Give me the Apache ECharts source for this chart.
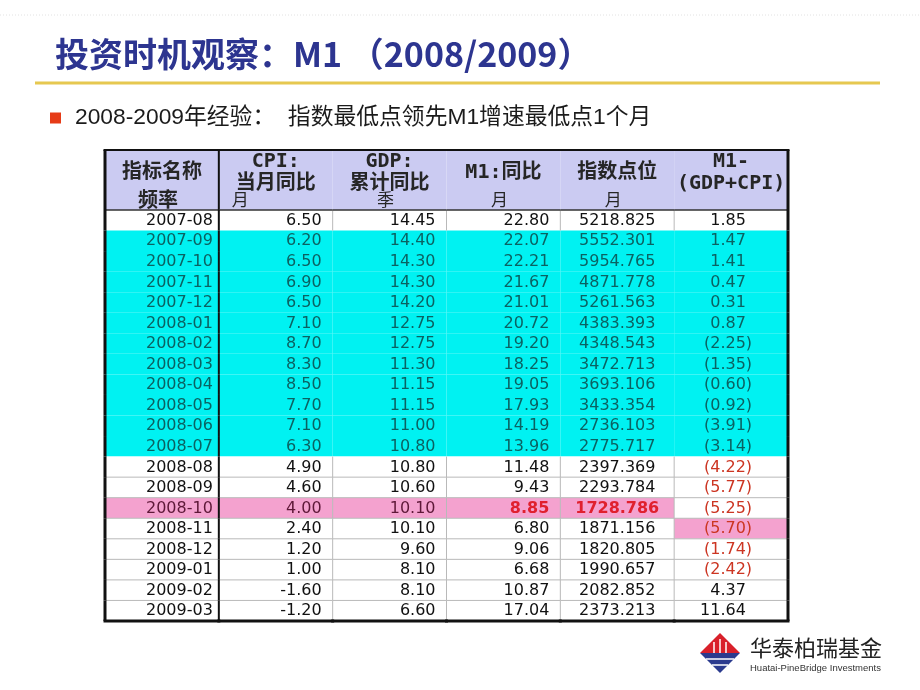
<!DOCTYPE html>
<html>
<head>
<meta charset="utf-8">
<script src="https://cdn.jsdelivr.net/npm/echarts@6/dist/echarts.min.js"></script>
<style>
html,body{margin:0;padding:0;background:#ffffff;}
#c{width:920px;height:690px;}
</style>
</head>
<body>
<div id="c"></div>
<script>
// ---------------- data ----------------
const months = ['2007-08','2007-09','2007-10','2007-11','2007-12','2008-01','2008-02','2008-03','2008-04','2008-05',
                '2008-06','2008-07','2008-08','2008-09','2008-10','2008-11','2008-12','2009-01','2009-02','2009-03'];
const cpi = [6.50,6.20,6.50,6.90,6.50,7.10,8.70,8.30,8.50,7.70,7.10,6.30,4.90,4.60,4.00,2.40,1.20,1.00,-1.60,-1.20];
const gdp = [14.45,14.40,14.30,14.30,14.20,12.75,12.75,11.30,11.15,11.15,11.00,10.80,10.80,10.60,10.10,10.10,9.60,8.10,8.10,6.60];
const m1 = [22.80,22.07,22.21,21.67,21.01,20.72,19.20,18.25,19.05,17.93,14.19,13.96,11.48,9.43,8.85,6.80,9.06,6.68,10.87,17.04];
const indexPoints = [5218.825,5552.301,5954.765,4871.778,5261.563,4383.393,4348.543,3472.713,3693.106,3433.354,
                     2736.103,2775.717,2397.369,2293.784,1728.786,1871.156,1820.805,1990.657,2082.852,2373.213];
const spread = [1.85,1.47,1.41,0.47,0.31,0.87,-2.25,-1.35,-0.60,-0.92,-3.91,-3.14,-4.22,-5.77,-5.25,-5.70,-1.74,-2.42,4.37,11.64];

const headerTitles = ['指标名称','CPI:\n当月同比','GDP:\n累计同比','M1:同比','指数点位','M1-\n(GDP+CPI)'];
const headerFreq = ['频率','月','季','月','月',''];

const shadedFrom = '2007-09', shadedTo = '2008-07';
const indexLowMonth = '2008-10';
const spreadLowMonth = '2008-11';

const titleText = '投资时机观察：M1 （2008/2009）';
const bulletText = '2008-2009年经验：  指数最低点领先M1增速最低点1个月';
const brandCn = '华泰柏瑞基金';
const brandEn = 'Huatai-PineBridge Investments';

// ---------------- styling ----------------
const CYAN = '#00f2f2';
const PINK = '#f4a2cf';
const HEAD_BG = '#cbcbf2';
const GRID = '#b9b9b9';
const BLACK = '#111111';
const TEAL = '#0b6262';
const RED = '#cc3522';
const DATA_FONT = '"DejaVu Sans","Liberation Sans",sans-serif';
const HEAD_FONT = '"DejaVu Sans Mono","Noto Sans CJK SC",monospace';

const nRows = months.length;
const iShadeA = months.indexOf(shadedFrom), iShadeB = months.indexOf(shadedTo);
const iIdxLow = months.indexOf(indexLowMonth), iSprLow = months.indexOf(spreadLowMonth);

function cellText(c, r) {
  switch (c) {
    case 0: return months[r];
    case 1: return cpi[r].toFixed(2);
    case 2: return gdp[r].toFixed(2);
    case 3: return m1[r].toFixed(2);
    case 4: return indexPoints[r].toFixed(3);
    default: {
      const v = spread[r];
      return v < 0 ? '{n|(' + Math.abs(v).toFixed(2) + ')}' : '{n|' + v.toFixed(2) + '}{p|)}';
    }
  }
}

const cellData = [];
for (let r = 0; r < nRows; r++) for (let c = 0; c < 6; c++) cellData.push([c, r]);
const headerData = headerTitles.map((t, c) => [c, 0]);

function ln(x1, y1, x2, y2, color, w, z2) {
  return { type: 'line', z2: z2, silent: true, shape: { x1, y1, x2, y2 }, style: { stroke: color, lineWidth: w } };
}

function renderCell(params, api) {
  const c = api.value(0), r = api.value(1);
  const p = api.coord([c, r]);
  const s = api.size([1, 1]);
  const w = s[0], h = s[1];
  const x0 = p[0] - w / 2, y0 = p[1] - h / 2, x1 = x0 + w, y1 = y0 + h;
  const shaded = r >= iShadeA && r <= iShadeB;
  const pinkCell = (r === iIdxLow && c <= 4) || (r === iSprLow && c === 5);
  const bg = pinkCell ? PINK : (shaded ? CYAN : '#ffffff');
  const ch = [{ type: 'rect', z2: 0, shape: { x: x0, y: y0, width: w, height: h }, style: { fill: bg } }];
  if (!shaded) {
    if (c >= 1 && c <= 4) ch.push(ln(x1, y0, x1, y1, GRID, 1, 1));
    if (r < nRows - 1 && !(r + 1 >= iShadeA && r + 1 <= iShadeB)) ch.push(ln(x0, y1, x1, y1, GRID, 1, 1));
  }
  if (c === 0) {
    ch.push(ln(x0, y0, x0, y1, BLACK, 3, 3));
    ch.push(ln(x1, y0, x1, y1, BLACK, 2, 3));
  }
  if (c === 5) ch.push(ln(x1, y0, x1, y1, BLACK, 3, 3));
  if (r === nRows - 1) ch.push(ln(x0 - 1.5, y1, x1 + 1.5, y1, BLACK, 3, 3));

  let fill = BLACK, weight = 'normal';
  if (shaded) fill = TEAL;
  else if (r === iIdxLow && c <= 2) fill = '#5e1838';
  else if (r === iIdxLow && (c === 3 || c === 4)) { fill = '#e0202e'; weight = 'bold'; }
  if (c === 5 && spread[r] < 0 && !shaded) fill = RED;

  let tx, align;
  if (c === 0) { tx = x1 - 6; align = 'right'; }
  else if (c <= 3) { tx = x1 - 11; align = 'right'; }
  else if (c === 4) { tx = p[0]; align = 'center'; }
  else { tx = p[0] + 21; align = 'right'; }

  const font = weight + ' 16px ' + DATA_FONT;
  ch.push({
    type: 'text', z2: 4, x: tx, y: p[1] + 0.5, silent: true,
    style: {
      text: cellText(c, r), align: align, verticalAlign: 'middle', fill: fill, font: font,
      rich: {
        n: { fill: fill, font: font },
        p: { fill: 'rgba(0,0,0,0)', font: font }
      }
    }
  });
  return { type: 'group', children: ch };
}

function renderHeader(params, api) {
  const c = api.value(0);
  const p = api.coord([c, 0]);
  const s = api.size([1, 1]);
  const w = s[0], h = s[1];
  const x0 = p[0] - w / 2, y0 = p[1] - h / 2, x1 = x0 + w, y1 = y0 + h;
  const ch = [{ type: 'rect', z2: 0, shape: { x: x0, y: y0, width: w, height: h }, style: { fill: HEAD_BG } }];
  ch.push(ln(x0 - 1.5, y0, x1 + 1.5, y0, BLACK, 2, 3));
  ch.push(ln(x0, y1, x1, y1, '#333333', 1.5, 3));
  if (c === 0) {
    ch.push(ln(x0, y0, x0, y1, BLACK, 3, 3));
    ch.push(ln(x1, y0, x1, y1, BLACK, 2, 3));
  }
  if (c === 5) ch.push(ln(x1, y0, x1, y1, BLACK, 3, 3));
  ch.push({
    type: 'text', z2: 4, x: p[0], y: p[1] - 7, silent: true,
    style: { text: headerTitles[c], align: 'center', verticalAlign: 'middle', fill: '#262626',
             font: 'bold 20px ' + HEAD_FONT, lineHeight: 22 }
  });
  if (headerFreq[c]) {
    const first = c === 0;
    ch.push({
      type: 'text', z2: 4, x: c === 1 ? x0 + 13 : p[0] - 4, y: p[1] + 19.5, silent: true,
      style: { text: headerFreq[c], align: c === 1 ? 'left' : 'center', verticalAlign: 'middle', fill: '#262626',
               font: (first ? 'bold 20px ' : 'normal 17px ') + '"Noto Sans CJK SC",sans-serif' }
    });
  }
  return { type: 'group', children: ch };
}

const chart = echarts.init(document.getElementById('c'), null, { renderer: 'canvas' });
const colCats = headerTitles.map((t, i) => String(i));

chart.setOption({
  animation: false,
  backgroundColor: '#ffffff',
  grid: [
    { left: 105, width: 683, top: 150, height: 60 },
    { left: 105, width: 683, top: 210, height: 411 }
  ],
  xAxis: [
    { type: 'category', gridIndex: 0, data: colCats, show: false },
    { type: 'category', gridIndex: 1, data: colCats, show: false }
  ],
  yAxis: [
    { type: 'category', gridIndex: 0, data: ['header'], show: false },
    { type: 'category', gridIndex: 1, data: months, inverse: true, show: false }
  ],
  series: [
    { type: 'custom', xAxisIndex: 0, yAxisIndex: 0, renderItem: renderHeader, data: headerData, clip: false, silent: true },
    { type: 'custom', xAxisIndex: 1, yAxisIndex: 1, renderItem: renderCell, data: cellData, clip: false, silent: true }
  ],
  graphic: [
    { type: 'line', shape: { x1: 0, y1: 15, x2: 920, y2: 15 }, style: { stroke: '#e2e2e2', lineWidth: 1, lineDash: [1, 2] }, silent: true },
    { type: 'text', x: 55, y: 54, style: { text: titleText, fill: '#2d3590', font: 'bold 34px "Noto Sans CJK SC","Liberation Sans",sans-serif', verticalAlign: 'middle' }, silent: true },
    { type: 'line', shape: { x1: 35, y1: 83, x2: 880, y2: 83 }, style: { stroke: '#e6c850', lineWidth: 3 }, silent: true },
    { type: 'rect', shape: { x: 50, y: 112.5, width: 11, height: 11 }, style: { fill: '#e63b17' }, silent: true },
    { type: 'text', x: 75, y: 118, style: { text: bulletText, fill: '#1b1b1b', font: '22.8px "Liberation Sans","Noto Sans CJK SC",sans-serif', verticalAlign: 'middle' }, silent: true },
    // logo
    { type: 'polygon', shape: { points: [[720, 633], [740, 653], [700, 653]] }, style: { fill: '#d9202a' }, silent: true },
    { type: 'polygon', shape: { points: [[700, 653], [740, 653], [720, 673]] }, style: { fill: '#2b3a8e' }, silent: true },
    { type: 'line', shape: { x1: 706, y1: 659, x2: 734, y2: 659 }, style: { stroke: '#ffffff', lineWidth: 1.5 }, silent: true },
    { type: 'line', shape: { x1: 712, y1: 665, x2: 728, y2: 665 }, style: { stroke: '#ffffff', lineWidth: 1.5 }, silent: true },
    { type: 'line', shape: { x1: 714, y1: 642, x2: 714, y2: 653 }, style: { stroke: '#ffffff', lineWidth: 1.5 }, silent: true },
    { type: 'line', shape: { x1: 720, y1: 639, x2: 720, y2: 653 }, style: { stroke: '#ffffff', lineWidth: 1.5 }, silent: true },
    { type: 'line', shape: { x1: 726, y1: 642, x2: 726, y2: 653 }, style: { stroke: '#ffffff', lineWidth: 1.5 }, silent: true },
    { type: 'text', x: 750, y: 648, style: { text: brandCn, fill: '#222222', font: '22px "Noto Sans CJK SC",sans-serif', verticalAlign: 'middle' }, silent: true },
    { type: 'text', x: 750, y: 668, style: { text: brandEn, fill: '#333333', font: '9.5px "Liberation Sans",sans-serif', verticalAlign: 'middle' }, silent: true }
  ]
});
</script>
</body>
</html>
